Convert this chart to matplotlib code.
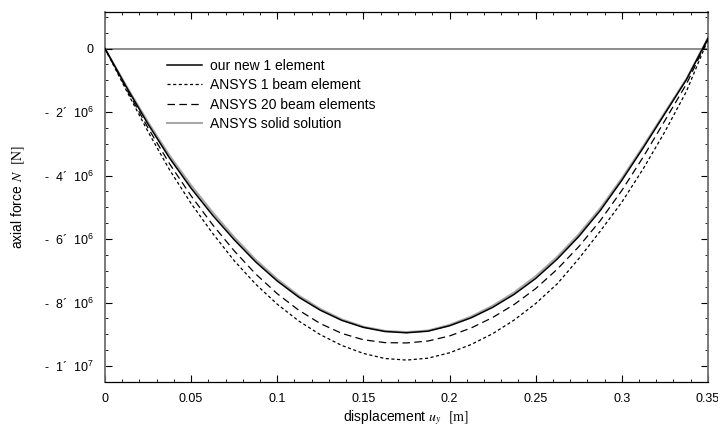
import matplotlib.pyplot as plt
from matplotlib.ticker import MultipleLocator

plt.rcParams['font.family'] = 'Liberation Sans'
plt.rcParams['mathtext.fontset'] = 'stix'

# displacement u_y [m]
x = [0, 0.0125, 0.025, 0.0375, 0.05, 0.0625, 0.075, 0.0875, 0.1, 0.1125,
     0.125, 0.1375, 0.15, 0.1625, 0.175, 0.1875, 0.2, 0.2125, 0.225, 0.2375,
     0.25, 0.2625, 0.275, 0.2875, 0.3, 0.3125, 0.325, 0.3375, 0.35]

# axial force N [1e6 N]
new_1 = [0, -1.22, -2.38, -3.45, -4.40, -5.25, -6.02, -6.72, -7.32, -7.83,
         -8.24, -8.56, -8.78, -8.91, -8.95, -8.90, -8.73, -8.48, -8.15, -7.74,
         -7.24, -6.63, -5.92, -5.10, -4.15, -3.12, -2.05, -0.98, 0.32]
ansys_1 = [0, -1.33, -2.62, -3.82, -4.88, -5.82, -6.68, -7.42, -8.05, -8.58,
           -9.01, -9.35, -9.60, -9.76, -9.81, -9.75, -9.58, -9.32, -8.98, -8.55,
           -8.03, -7.41, -6.62, -5.75, -4.84, -3.78, -2.62, -1.35, 0.28]
ansys_20 = [0, -1.28, -2.50, -3.63, -4.64, -5.55, -6.37, -7.10, -7.72, -8.24,
            -8.66, -8.97, -9.17, -9.26, -9.27, -9.21, -9.05, -8.80, -8.47, -8.06,
            -7.56, -6.95, -6.24, -5.42, -4.47, -3.41, -2.27, -1.12, 0.30]
ansys_solid = [0, -1.19, -2.32, -3.37, -4.31, -5.16, -5.94, -6.65, -7.26, -7.78,
               -8.20, -8.53, -8.76, -8.89, -8.93, -8.88, -8.70, -8.44, -8.10, -7.68,
               -7.17, -6.56, -5.85, -5.03, -4.09, -3.07, -2.01, -0.96, 0.33]

x_ticks = [0, 0.05, 0.1, 0.15, 0.2, 0.25, 0.3, 0.35]
x_labels = ['0', '0.05', '0.1', '0.15', '0.2', '0.25', '0.3', '0.35']
y_ticks = [0, -2e6, -4e6, -6e6, -8e6, -1e7]
y_labels = ['0',
            '-  2\u00b4  10$\\mathregular{^6}$',
            '-  4\u00b4  10$\\mathregular{^6}$',
            '-  6\u00b4  10$\\mathregular{^6}$',
            '-  8\u00b4  10$\\mathregular{^6}$',
            '-  1\u00b4  10$\\mathregular{^7}$']

fig = plt.figure(figsize=(7.18, 4.34), dpi=100)
ax = fig.add_axes([0.1462, 0.1198, 0.8398, 0.8526])

s = 1e6
ax.axhline(0, color='#6e6e6e', lw=1.1, zorder=1)
ax.plot(x, [v * s for v in ansys_solid], color='#a8a8a8', lw=1.5, label='ANSYS solid solution', zorder=2)
ax.plot(x, [v * s for v in new_1], color='black', lw=1.1, label='our new 1 element', zorder=3)
ax.plot(x, [v * s for v in ansys_1], color='black', lw=0.9, dashes=(2.5, 2), label='ANSYS 1 beam element', zorder=3)
ax.plot(x, [v * s for v in ansys_20], color='black', lw=0.9, dashes=(6, 3.5), label='ANSYS 20 beam elements', zorder=3)

ax.set_xlim(0, 0.35)
ax.set_ylim(-10.5e6, 1.15e6)
ax.set_xticks(x_ticks)
ax.set_xticklabels(x_labels)
ax.set_yticks(y_ticks)
ax.set_yticklabels(y_labels)
ax.xaxis.set_minor_locator(MultipleLocator(0.01))
ax.yaxis.set_minor_locator(MultipleLocator(0.5e6))
ax.tick_params(which='both', direction='in', top=True, right=True, labelsize=9)
ax.tick_params(which='major', length=5, width=0.8)
ax.tick_params(which='minor', length=2.5, width=0.6)
ax.tick_params(axis='x', pad=8)
ax.tick_params(axis='y', pad=8)

for side in ['left', 'right']:
    ax.spines[side].set_color('#707070')
    ax.spines[side].set_linewidth(1.3)
for side in ['top', 'bottom']:
    ax.spines[side].set_color('black')
    ax.spines[side].set_linewidth(0.9)

ax.set_xlabel('displacement $u_y$  $[\\mathrm{m}]$', fontsize=10, labelpad=2)
ax.set_ylabel('axial force $N$  $[\\mathrm{N}]$', fontsize=10, labelpad=12)

h, l = ax.get_legend_handles_labels()
order = [1, 2, 3, 0]
ax.legend([h[i] for i in order], [l[i] for i in order], loc='upper left',
          bbox_to_anchor=(0.1028, 0.874), frameon=False, fontsize=10,
          borderaxespad=0, borderpad=0,
          handlelength=2.55, handletextpad=0.55, labelspacing=0.4)

fig.savefig('out.png', dpi=100)
